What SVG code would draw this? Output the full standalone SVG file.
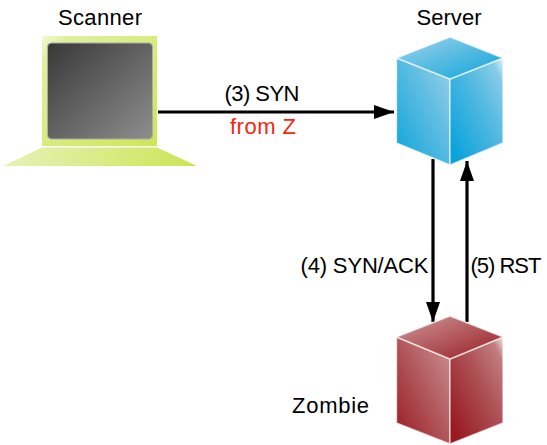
<svg xmlns="http://www.w3.org/2000/svg" width="547" height="445" viewBox="0 0 547 445">
<style>
text{font-family:"Liberation Sans",Arial,sans-serif;font-size:22px;fill:#000;text-anchor:start}
.e{stroke:#fff;stroke-opacity:.65;stroke-width:1.4;stroke-linejoin:round}
.c{stroke:#000;stroke-width:3.2;fill:none}
</style>
<defs>
<linearGradient id="bf" x1="0" y1="1" x2="1" y2="0"><stop offset="0" stop-color="#0ba3da"/><stop offset="1" stop-color="#9ad0e9"/></linearGradient>
<linearGradient id="br" x1="0" y1="1" x2="1" y2="0"><stop offset=".1" stop-color="#0ba3da"/><stop offset=".6" stop-color="#55bae2"/><stop offset=".88" stop-color="#86cce8"/><stop offset="1" stop-color="#e2f2f9"/></linearGradient>
<linearGradient id="bt" x1="0" y1="0" x2="1" y2="1"><stop offset="0" stop-color="#a0d3ea"/><stop offset="1" stop-color="#0ba3da"/></linearGradient>
<linearGradient id="rf" x1="0" y1="1" x2="1" y2="0"><stop offset="0" stop-color="#971a20"/><stop offset="1" stop-color="#cb9296"/></linearGradient>
<linearGradient id="rr" x1="0" y1="1" x2="1" y2="0"><stop offset=".1" stop-color="#971a20"/><stop offset=".6" stop-color="#af5458"/><stop offset=".88" stop-color="#c07c80"/><stop offset="1" stop-color="#f2e2e3"/></linearGradient>
<linearGradient id="rt" x1="0" y1="0" x2="1" y2="1"><stop offset="0" stop-color="#cf999c"/><stop offset="1" stop-color="#971a20"/></linearGradient>
<linearGradient id="lb" x1="0" y1="0" x2="1" y2="1"><stop offset="0" stop-color="#f2f8d8"/><stop offset=".12" stop-color="#dff09c"/><stop offset="1" stop-color="#cde658"/></linearGradient>
<linearGradient id="lk" x1="0" y1="0" x2="1" y2="0"><stop offset="0" stop-color="#e6f2b8"/><stop offset="1" stop-color="#cbe554"/></linearGradient>
<linearGradient id="ls" x1="0" y1="0" x2="1" y2="1"><stop offset="0" stop-color="#383838"/><stop offset="1" stop-color="#8e8e8e"/></linearGradient>
<marker id="ah" markerUnits="userSpaceOnUse" markerWidth="20" markerHeight="16" refX="20" refY="8" orient="auto"><path d="M0 1 L20 8 L0 15 L0 1Z" fill="#000"/></marker>
</defs>
<g id="connectors">
<path class="c" d="M158 112H394" marker-end="url(#ah)"/>
<path class="c" d="M433 159V322" marker-end="url(#ah)"/>
<path class="c" d="M467 322V161" marker-end="url(#ah)"/>
</g>
<g id="scanner">
<rect x="42" y="36" width="115" height="110" fill="url(#lb)"/>
<rect x="47.500" y="43" width="105" height="96" rx="4" fill="url(#ls)" stroke="#aaa" stroke-width="1"/>
<path d="M42 147.500H157L197 166H3Z" fill="url(#lk)"/>
<text x="58" y="25" textLength="84">Scanner</text>
</g>
<g id="server">
<path class="e" d="M396.500 58L450 79V165L396.500 143Z" fill="url(#bf)"/>
<path class="e" d="M450 79L503 58V143L450 165Z" fill="url(#br)"/>
<path class="e" d="M450 37L503 58L450 79L396.500 58Z" fill="url(#bt)"/>
<text x="416.500" y="25" textLength="65">Server</text>
</g>
<g id="zombie">
<path class="e" d="M396.500 337L450 359V444L396.500 423Z" fill="url(#rf)"/>
<path class="e" d="M450 359L503 337V423L450 444Z" fill="url(#rr)"/>
<path class="e" d="M450 316L503 337L450 359L396.500 337Z" fill="url(#rt)"/>
<text x="292" y="413" textLength="77">Zombie</text>
</g>
<g id="labels">
<text x="224.500" y="100.500" textLength="75">(3) SYN</text>
<text x="230" y="134" textLength="66" style="fill:#f4260f">from Z</text>
<text x="300.500" y="272.500" textLength="128">(4) SYN/ACK</text>
<text x="470.500" y="272.500" textLength="71">(5) RST</text>
</g>
</svg>
